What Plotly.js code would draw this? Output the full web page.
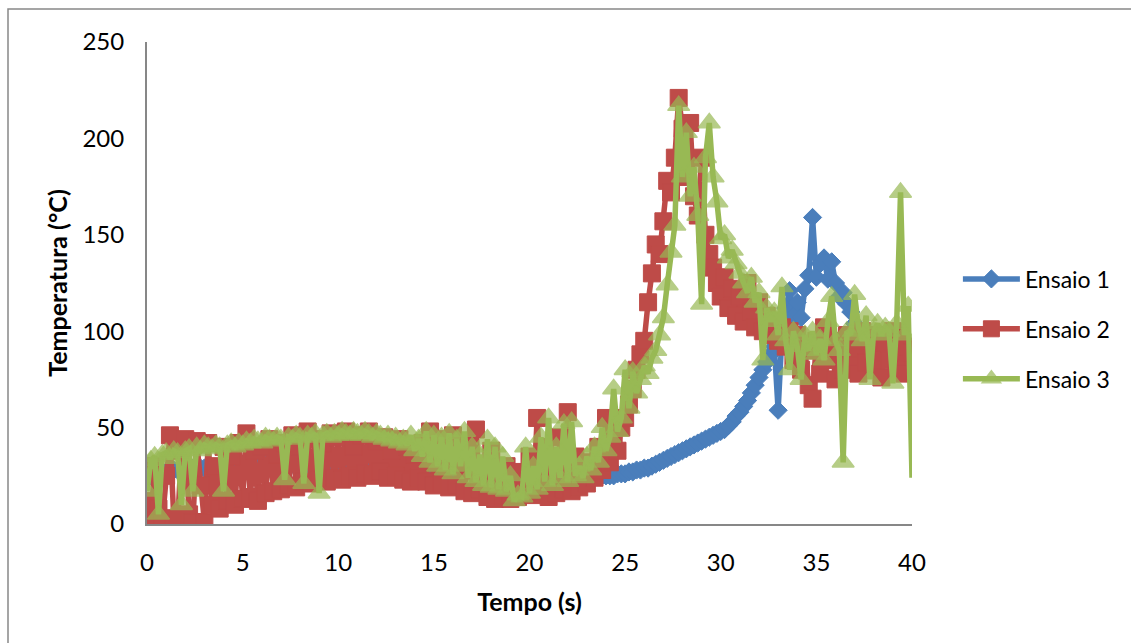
<!DOCTYPE html>
<html>
<head>
<meta charset="utf-8">
<script src="https://cdn.plot.ly/plotly-3.0.1.min.js"></script>
<style>html,body{margin:0;padding:0;background:#fff;}#chart{width:1131px;height:643px;}</style>
</head>
<body>
<div id="chart"></div>
<script>
// Tempo (s) — sampling instants
const tempo = [0,0.2,0.4,0.6,0.8,1,1.2,1.4,1.6,1.8,2,2.2,2.4,2.6,2.8,3,3.2,3.4,3.6,3.8,4,4.2,4.4,4.6,4.8,5,5.2,5.4,5.6,5.8,6,6.2,6.4,6.6,6.8,7,7.2,7.4,7.6,7.8,8,8.2,8.4,8.6,8.8,9,9.2,9.4,9.6,9.8,10,10.2,10.4,10.6,10.8,11,11.2,11.4,11.6,11.8,12,12.2,12.4,12.6,12.8,13,13.2,13.4,13.6,13.8,14,14.2,14.4,14.6,14.8,15,15.2,15.4,15.6,15.8,16,16.2,16.4,16.6,16.8,17,17.2,17.4,17.6,17.8,18,18.2,18.4,18.6,18.8,19,19.2,19.4,19.6,19.8,20,20.2,20.4,20.6,20.8,21,21.2,21.4,21.6,21.8,22,22.2,22.4,22.6,22.8,23,23.2,23.4,23.6,23.8,24,24.2,24.4,24.6,24.8,25,25.2,25.4,25.6,25.8,26,26.2,26.4,26.6,26.8,27,27.2,27.4,27.6,27.8,28,28.2,28.4,28.6,28.8,29,29.2,29.4,29.6,29.8,30,30.2,30.4,30.6,30.8,31,31.2,31.4,31.6,31.8,32,32.2,32.4,32.6,32.8,33,33.2,33.4,33.6,33.8,34,34.2,34.4,34.6,34.8,35,35.2,35.4,35.6,35.8,36,36.2,36.4,36.6,36.8,37,37.2,37.4,37.6,37.8,38,38.2,38.4,38.6,38.8,39,39.2,39.4,39.6,39.8,40];

// Temperatura (°C)
const ensaio1 = [24,25,26,26,27,27,
27,28,28,28,28,28,29,29,29,29,
29,29,29,29,29,29,30,30,30,30,
29,30,30,30,30,31,31,30,31,31,
31,31,31,31,31,31,31,31,31,31,
31,31,31,31,31,31,31,30,30,30,
30,30,30,30,30,30,30,30,30,30,
30,30,30,29,29,29,29,29,29,29,
29,28,28,28,28,28,28,28,28,27,
27,27,27,27,27,27,27,26,26,26,
26,26,26,26,26,26,26,25,25,25,
25,25,25,25,25,25,25,25,25,25,
25,25,25,25,25,25,25,26,26,26,
27,27,28,28,29,29,30,31,32,33,
34,35,36,37,38,39,40,41,42,43,
44,45,46,47,48,49,51,53,56,58,
61,64,68,72,76,80,84,88,92,59,
98,112,121,108,115,107,122,129,159,128,
135,138,127,136,125,118,120,114,110,104];

const ensaio2 = [12,2,30,8,1,25,46,3,0,38,
44,5,1,43,20,1,42,10,30,8,
40,12,35,10,42,13,47,14,38,12,
40,16,44,17,36,18,42,20,46,19,
40,22,48,21,44,23,42,22,47,24,
45,23,48,25,40,24,46,26,48,25,
43,27,45,24,38,25,44,23,40,22,
36,24,42,22,48,20,44,21,38,19,
46,20,35,17,42,16,49,18,30,14,
38,13,25,15,30,13,27,14,22,16,
35,15,55,17,40,14,32,16,45,18,
58,17,35,19,30,21,32,24,40,28,
55,32,45,38,50,55,62,70,80,88,
95,115,130,145,140,157,178,172,190,221,
205,180,208,170,160,190,150,140,133,125,
118,128,112,122,108,118,105,125,110,102,
115,100,108,98,104,95,102,92,100,85,
98,80,90,72,65,95,78,102,85,95,
75,92,80,98,82,95,78,100,84,96,
80,98,76,94,85,100,80,95,78,92,
89];

const ensaio3 = [17,33,35,5,36,37,34,38,37,10,
38,39,17,40,38,41,40,39,41,40,
17,41,42,40,42,41,43,42,44,43,
42,45,44,43,45,44,23,45,44,46,
45,21,46,45,47,16,46,47,45,47,
46,48,47,46,48,47,46,48,47,45,
47,46,44,46,43,45,42,44,41,46,
38,44,35,48,32,46,30,45,28,47,
26,44,30,48,24,40,22,36,20,44,
19,40,18,35,17,25,12,15,14,40,
16,30,18,45,22,55,20,40,24,52,
22,53,25,30,24,35,28,40,32,50,
38,45,70,48,55,80,60,79,68,75,
82,78,86,90,98,107,124,141,155,217,
180,203,170,185,160,114,190,208,180,167,
148,150,138,142,135,130,125,120,128,115,
120,85,112,105,110,98,123,95,80,100,
92,75,98,90,100,88,96,85,105,118,
95,90,32,100,98,119,102,95,108,75,
100,104,98,102,100,73,104,172,98,113,
24];

const seriesNames = ['Ensaio 1','Ensaio 2','Ensaio 3'];
const xTicks = [0,5,10,15,20,25,30,35,40];
const yTicks = [0,50,100,150,200,250];

const FONT = 'Lato, "Open Sans", sans-serif';
const C1 = '#4A7EBB', C2 = '#BE4B48', C3 = '#98B954';

// last point of Ensaio 3 has no marker in the reference
const sizes3 = ensaio3.map((v, i) => i === ensaio3.length - 1 ? 0 : 19);

const traces = [
  {
    x: tempo.slice(0, ensaio1.length), y: ensaio1, name: seriesNames[0],
    type: 'scatter', mode: 'lines+markers', legendgroup: 'a',
    line: {color: C1, width: 5.5},
    marker: {symbol: 'diamond', size: 14, color: C1, line: {color: C1, width: 1}}
  },
  {
    x: tempo.slice(0, ensaio2.length), y: ensaio2, name: seriesNames[1],
    type: 'scatter', mode: 'lines+markers', legendgroup: 'b',
    line: {color: C2, width: 5.5},
    marker: {symbol: 'square', size: 17, color: C2, line: {color: C2, width: 1}}
  },
  {
    x: tempo.slice(0, ensaio3.length), y: ensaio3, name: seriesNames[2],
    type: 'scatter', mode: 'lines+markers', legendgroup: 'c',
    line: {color: C3, width: 5.5},
    marker: {symbol: 'triangle-up', size: sizes3, color: C3, line: {color: C3, width: 1.5}}
  }
];

const layout = {
  width: 1131, height: 643,
  paper_bgcolor: '#fff', plot_bgcolor: '#fff',
  margin: {l: 147, r: 219, t: 42, b: 119},
  font: {family: FONT, color: '#000', size: 24},
  showlegend: true,
  legend: {
    x: 1.06, xanchor: 'left', y: 0.553, yanchor: 'top',
    font: {family: FONT, size: 23, color: '#000'},
    traceorder: 'grouped', tracegroupgap: 17,
    itemwidth: 57, bgcolor: 'rgba(0,0,0,0)'
  },
  xaxis: {
    range: [0, 40], tickvals: xTicks, ticktext: xTicks.map(String),
    showgrid: false, zeroline: false,
    showline: true, linecolor: '#878787', linewidth: 2,
    ticks: '', ticklabelstandoff: 16,
    tickfont: {family: FONT, size: 24, color: '#000'},
    title: {text: '<b>Tempo (s)</b>', font: {family: FONT, size: 25, color: '#000'}, standoff: 19}
  },
  yaxis: {
    range: [0, 250], tickvals: yTicks, ticktext: yTicks.map(String),
    showgrid: false, zeroline: false,
    showline: true, linecolor: '#878787', linewidth: 2,
    ticks: '', ticklabelstandoff: 16,
    tickfont: {family: FONT, size: 24, color: '#000'},
    title: {text: '<b>Temperatura (°C)</b>', font: {family: FONT, size: 25, color: '#000'}, standoff: 8}
  },
  shapes: [
    {type: 'rect', xref: 'paper', yref: 'paper',
     x0: (8 - 147) / 765, x1: (1140 - 147) / 765,
     y0: (524 - 650) / 482, y1: (524 - 9) / 482,
     line: {color: '#888', width: 1.5}, fillcolor: 'rgba(0,0,0,0)', layer: 'below'}
  ]
};

Plotly.newPlot('chart', traces, layout, {displayModeBar: false, staticPlot: true});
</script>
</body>
</html>
